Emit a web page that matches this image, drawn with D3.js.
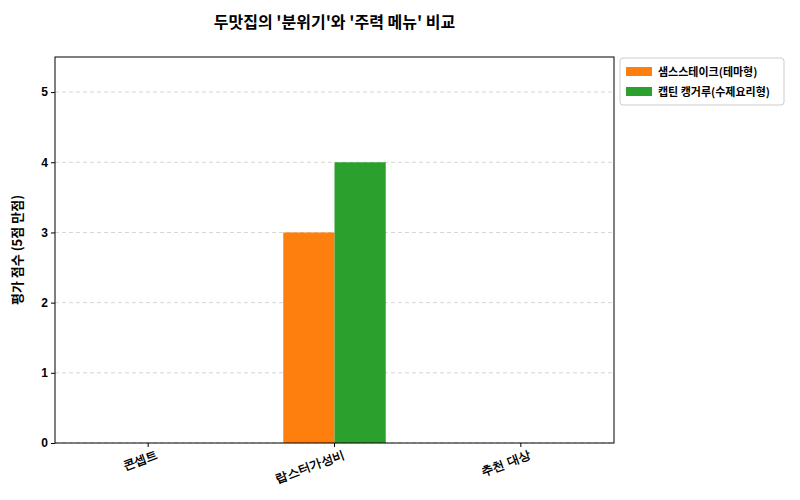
<!DOCTYPE html>
<html><head><meta charset="utf-8">
<script src="https://cdn.jsdelivr.net/npm/d3@7"></script>
<style>
body{margin:0;background:#fff;font-family:"Noto Sans CJK KR","Noto Sans",sans-serif}
.axis text{font-size:12px;font-weight:bold;fill:#000}
</style></head><body><svg id="c" width="800" height="500"></svg>
<script>
var categories = ['콘셉트', '랍스터가성비', '추천 대상']
var seriesNames = ['샘스스테이크(테마형)', '캡틴 캥거루(수제요리형)']
var seriesValues = [[0, 3, 0], [0, 4, 0]]
var colors = ['#ff7f0e', '#2ca02c']
var yTicks = [0, 1, 2, 3, 4, 5]

var margin = {top: 57, left: 55, right: 186, bottom: 57}
var width = 800 - margin.left - margin.right
var height = 500 - margin.top - margin.bottom
var svg = d3.select('#c')
var g = svg.append('g').attr('transform', 'translate(' + margin.left + ',' + margin.top + ')')

var x = d3.scaleBand().domain(categories).range([0, width])
var y = d3.scaleLinear().domain([0, 5.5]).range([height, 0])
var bw = x.bandwidth() * 0.275

g.selectAll('.grid').data(yTicks).enter().append('line')
  .attr('x1', 0).attr('x2', width)
  .attr('y1', function (d) { return y(d) }).attr('y2', function (d) { return y(d) })
  .style('stroke', '#ccc').style('stroke-dasharray', '4,3').style('stroke-width', 0.8)

seriesValues.forEach(function (vals, s) {
  g.selectAll('.bar' + s).data(vals).enter().append('rect')
    .attr('x', function (d, i) { return x(categories[i]) + x.bandwidth() / 2 + (s - 1) * bw })
    .attr('y', function (d) { return y(d) })
    .attr('width', bw)
    .attr('height', function (d) { return height - y(d) })
    .style('fill', colors[s])
})

g.append('g').attr('class', 'axis').call(d3.axisLeft(y).tickValues(yTicks).tickSize(4).tickFormat(d3.format('d')))
  .call(function (a) { a.select('.domain').remove() })
var xa = g.append('g').attr('class', 'axis').attr('transform', 'translate(0,' + height + ')')
  .call(d3.axisBottom(x).tickSize(4))
xa.select('.domain').remove()
xa.selectAll('text').attr('text-anchor', 'end').attr('dy', '0.9em').attr('dx', '0.4em')
  .attr('transform', 'rotate(-20)')

g.append('rect').attr('width', width).attr('height', height)
  .style('fill', 'none').style('stroke', '#000').style('stroke-width', 1)

svg.append('text').attr('x', margin.left + width / 2).attr('y', 28).attr('text-anchor', 'middle')
  .style('font-size', '16px').style('font-weight', 'bold').text("두맛집의 '분위기'와 '주력 메뉴' 비교")
svg.append('text').attr('transform', 'translate(22,' + (margin.top + height / 2) + ') rotate(-90)')
  .attr('text-anchor', 'middle').style('font-size', '13px').style('font-weight', 'bold').text('평가 점수 (5점 만점)')

var lg = svg.append('g').attr('transform', 'translate(620,58)')
lg.append('rect').attr('width', 164).attr('height', 47).attr('rx', 3)
  .style('fill', '#fff').style('stroke', '#ccc')
seriesNames.forEach(function (n, i) {
  lg.append('rect').attr('x', 6).attr('y', 9 + i * 20).attr('width', 26).attr('height', 9).style('fill', colors[i])
  lg.append('text').attr('x', 38).attr('y', 18 + i * 20).style('font-size', '11px').style('font-weight', 'bold').text(n)
})
</script></body></html>
